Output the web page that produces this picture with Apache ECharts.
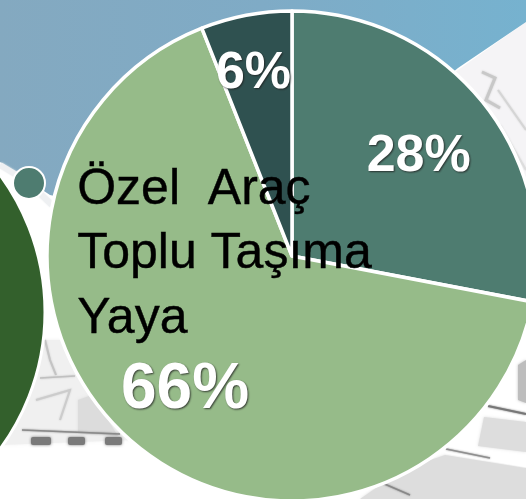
<!DOCTYPE html>
<html>
<head>
<meta charset="utf-8">
<style>html,body{margin:0;padding:0;background:#fff}#c{width:526px;height:499px}</style>
<script src="https://cdn.jsdelivr.net/npm/echarts@6/dist/echarts.min.js"></script>
</head>
<body>
<div id="c"></div>
<script>
const sliceNames = ['Özel  Araç', 'Yaya', 'Toplu Taşıma'];
const sliceValues = [28, 66, 6];
const legendOrder = ['Özel  Araç', 'Toplu Taşıma', 'Yaya'];
const sliceColors = ['#4e7c70', '#96bb89', '#2f5150'];
const labelSizes = [52, 64, 52];
const labelOffsets = [[30, -19], [-27, 38], [-15, -59]];

const grey = '#cfcfcf';
const road = (pts, color, w) => ({type:'polyline', silent:true, z:-1, shape:{points:pts},
  style:{stroke:color||grey, lineWidth:w||2, fill:null, shadowBlur:2, shadowColor:color||grey}});
const block = (pts, color) => ({type:'polygon', silent:true, z:-1, shape:{points:pts},
  style:{fill:color||'#dddddd', shadowBlur:3, shadowColor:color||'#dddddd'}});
const bar = (x, w) => ({type:'rect', silent:true, z:-1, shape:{x:x,y:437,width:w,height:8,r:2},
  style:{fill:'#7a7a7a', shadowBlur:3, shadowColor:'#7a7a7a'}});
const backdrop = [
  {type:'rect', silent:true, z:-3, shape:{x:0,y:0,width:526,height:499}, style:{fill:'#ffffff'}},
  {type:'polygon', silent:true, z:-3, shape:{points:[[458,70],[526,22],[526,300],[300,300],[300,200]]}, style:{fill:'#f5f4f6'}},
  {type:'polygon', silent:true, z:-2, shape:{points:[[0,0],[526,0],[526,22],[458,68],[250,240],[50,195],[0,162]]},
    style:{fill:{type:'linear',x:0,y:0,x2:1,y2:0,colorStops:[{offset:0,color:'#84a9c0'},{offset:0.5,color:'#7fabc6'},{offset:1,color:'#76b2cf'}]}}},
  road([[0,165],[28,182],[52,205]],'#eef0f2',6),
  block([[0,340],[130,340],[130,440],[0,445]],'#f0f0f0'),
  block([[78,400],[92,395],[118,436],[78,432]],'#dcdcdc'),
  road([[45,340],[50,360],[56,375]],'#c4c4c4',2), road([[40,378],[75,376]],'#c0c0c0',1.5),
  road([[36,400],[70,390],[60,420]],'#cccccc',2),
  road([[22,430],[120,434]],'#8a8a8a',1.5),
  bar(31,20), bar(68,17), bar(105,17),
  road([[482,72],[495,78],[486,100],[500,108]],'#c8c8c8',3),
  road([[498,90],[526,130]],'#d5d5d5',2), road([[500,125],[526,170]],'#dddddd',2),
  block([[484,417],[526,422],[526,452],[478,446]]),
  block([[402,470],[445,455],[526,468],[526,499],[360,499]]),
  block([[518,365],[526,360],[526,403],[518,400]],'#bdbdbd'),
  road([[488,406],[526,414]],'#777777',2), road([[445,451],[526,465]],'#ffffff',4),
  road([[446,449],[490,458]],'#8f8f8f',1.5), road([[380,482],[410,495]],'#888888',1.5),
  {type:'circle', silent:true, z:0, shape:{cx:-186,cy:312,r:231}, style:{fill:'#33602c', stroke:'#ffffff', lineWidth:3}},
  {type:'circle', silent:true, z:0, shape:{cx:29,cy:183,r:16}, style:{fill:'#4e7c70', stroke:'#ffffff', lineWidth:2}}
];

const chart = echarts.init(document.getElementById('c'), null, {renderer:'canvas'});
chart.setOption({
  animation:false,
  backgroundColor:'#fff',
  graphic:{elements:backdrop},
  legend:{
    orient:'vertical', left:72, top:160, icon:'none', itemWidth:0, itemHeight:20, itemGap:14,
    selectedMode:false, data:legendOrder,
    textStyle:{color:'#000', fontFamily:'Liberation Sans', fontSize:50, padding:[0,0,0,-5], lineHeight:41,
      textBorderColor:'#000', textBorderWidth:0.4}
  },
  series:[{
    type:'pie', center:[292,256], radius:[0,245], startAngle:90, clockwise:true,
    silent:true, labelLine:{show:false},
    itemStyle:{borderColor:'#fff', borderWidth:3.5},
    label:{position:'inside', color:'#fff', fontFamily:'Liberation Sans', fontWeight:'bold',
      textShadowColor:'rgba(30,30,30,0.8)', textShadowBlur:2, textShadowOffsetX:1, textShadowOffsetY:1, formatter:'{c}%'},
    data:sliceNames.map((name,i)=>({name, value:sliceValues[i], itemStyle:{color:sliceColors[i]},
      label:{fontSize:labelSizes[i], offset:labelOffsets[i]}}))
  }]
});
</script>
</body>
</html>
